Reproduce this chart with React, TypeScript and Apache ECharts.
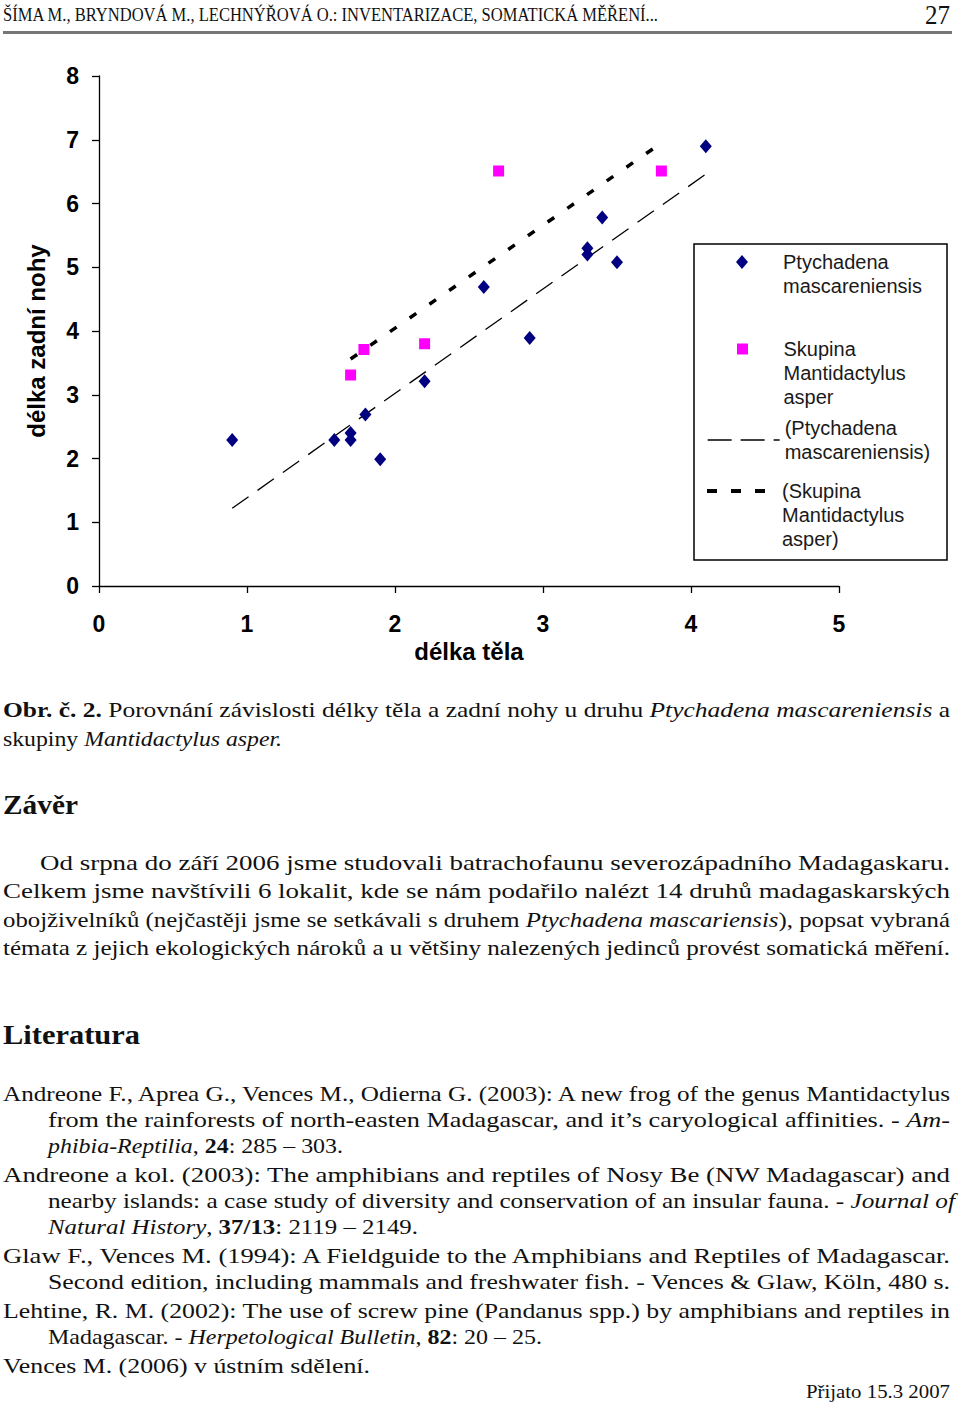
import React, { useEffect, useLayoutEffect, useRef } from "react";
import * as echarts from "echarts";

// ---------- data ----------
const seriesNames = [
  "Ptychadena mascareniensis",
  "Skupina Mantidactylus asper",
  "(Ptychadena mascareniensis)",
  "(Skupina Mantidactylus asper)",
];
// leading blank lines keep the first text line level with the legend icon
const legendLabels = [
  "\nPtychadena\nmascareniensis",
  "\n\nSkupina\nMantidactylus\nasper",
  "(Ptychadena\nmascareniensis)",
  "\n\n(Skupina\nMantidactylus\nasper)",
];
const ptychadenaX = [0.9, 1.59, 1.7, 1.7, 1.8, 1.9, 2.2, 2.6, 2.91, 3.3, 3.3, 3.4, 3.5, 4.1];
const ptychadenaY = [2.29, 2.29, 2.4, 2.29, 2.69, 1.99, 3.21, 4.69, 3.89, 5.3, 5.2, 5.78, 5.08, 6.9];
const mantidactylusX = [1.7, 1.79, 2.2, 2.7, 3.8];
const mantidactylusY = [3.31, 3.71, 3.8, 6.51, 6.51];
const ptychadenaTrendX = [0.9, 4.1];
const ptychadenaTrendY = [1.22, 6.46];
const mantidactylusTrendX = [1.7, 3.8];
const mantidactylusTrendY = [3.56, 6.95];
const xAxisTitle = "délka těla";
const yAxisTitle = "délka zadní nohy";

const pairs = (xs: number[], ys: number[]) => xs.map((x, i) => [x, ys[i]]);

const SANS = '"Liberation Sans", Arial, sans-serif';
const SERIF = '"Liberation Serif", "Times New Roman", serif';

// ---------- text line fitted to its width in the reference ----------
type LineProps = {
  x: number;
  cy: number;
  w: number;
  size?: number;
  justify?: boolean;
  bold?: boolean;
  color?: string;
  children: React.ReactNode;
};

function Line({ x, cy, w, size = 21, justify = false, bold = false, color = "#111", children }: LineProps) {
  const ref = useRef<HTMLDivElement>(null);
  useLayoutEffect(() => {
    const fit = () => {
      const el = ref.current;
      if (!el) return;
      el.style.transform = "none";
      el.style.wordSpacing = "normal";
      const nat = el.getBoundingClientRect().width;
      if (!nat) return;
      const glyph = 1.3;
      const spaces = (el.textContent || "").split(" ").length - 1;
      if (justify && spaces > 0 && nat * glyph < w) {
        const extra = (w / glyph - nat) / spaces;
        el.style.wordSpacing = extra + "px";
        const nat2 = el.getBoundingClientRect().width;
        el.style.transform = `scaleX(${w / nat2})`;
      } else {
        el.style.transform = `scaleX(${w / nat})`;
      }
    };
    fit();
    const fonts = (document as any).fonts;
    if (fonts && fonts.ready) fonts.ready.then(fit);
  }, []);
  return (
    <div
      ref={ref}
      style={{
        position: "absolute",
        left: x,
        top: cy - 0.5065 * size,
        fontSize: size,
        lineHeight: 1,
        whiteSpace: "nowrap",
        fontWeight: bold ? 700 : 400,
        transformOrigin: "0 0",
        fontFamily: SERIF,
        color,
      }}
    >
      {children}
    </div>
  );
}

// ---------- chart ----------
function Chart() {
  const ref = useRef<HTMLDivElement>(null);
  useEffect(() => {
    if (!ref.current) return;
    const chart = echarts.init(ref.current, undefined, { renderer: "svg" });
    const legendText = {
      fontFamily: SANS,
      fontSize: 20,
      color: "#1a1a1a",
      lineHeight: 24,
    };
    const legendBase = {
      orient: "vertical",
      padding: 0,
      itemGap: 0,
      selectedMode: false,
      textStyle: legendText,
    };
    const option: any = {
      animation: false,
      textStyle: { fontFamily: SANS },
      grid: { left: 99, top: 31, width: 740, height: 510, containLabel: false },
      xAxis: {
        type: "value",
        min: 0,
        max: 5,
        interval: 1,
        name: xAxisTitle,
        nameLocation: "middle",
        nameGap: 53,
        nameTextStyle: { fontSize: 24, fontWeight: "bold", color: "#000", fontFamily: SANS },
        axisLine: { show: true, onZero: false, lineStyle: { color: "#000", width: 1.3 } },
        axisTick: { show: true, length: 7, lineStyle: { color: "#000", width: 1.3 } },
        axisLabel: { fontSize: 23, color: "#000", margin: 26, fontFamily: SANS, fontWeight: "bold" },
        splitLine: { show: false },
      },
      yAxis: {
        type: "value",
        min: 0,
        max: 8,
        interval: 1,
        name: yAxisTitle,
        nameLocation: "middle",
        nameGap: 51,
        nameTextStyle: {
          fontSize: 24,
          fontWeight: "bold",
          color: "#000",
          fontFamily: SANS,
          padding: [0, 20, 0, 0],
        },
        axisLine: { show: true, onZero: false, lineStyle: { color: "#000", width: 1.3 } },
        axisTick: { show: true, length: 7, lineStyle: { color: "#000", width: 1.3 } },
        axisLabel: { fontSize: 23, color: "#000", margin: 20, fontFamily: SANS, fontWeight: "bold" },
        splitLine: { show: false },
      },
      legend: [
        {
          ...legendBase,
          data: [{ name: seriesNames[0], icon: "path://M6 0L12 7L6 14L0 7Z" }],
          left: 736,
          top: 181,
          itemWidth: 72,
          itemHeight: 14,
          formatter: () => legendLabels[0],
        },
        {
          ...legendBase,
          data: [{ name: seriesNames[1], icon: "path://M0 0H11V11H0Z" }],
          left: 737,
          top: 244,
          itemWidth: 72,
          itemHeight: 11,
          formatter: () => legendLabels[1],
        },
        {
          ...legendBase,
          data: [seriesNames[2]],
          left: 707,
          top: 371,
          itemWidth: 72,
          itemHeight: 14,
          formatter: () => legendLabels[2],
          lineStyle: { color: "#000", width: 1.3, type: [24, 9] },
          itemStyle: { opacity: 0, borderWidth: 0 },
        },
        {
          ...legendBase,
          data: [seriesNames[3]],
          left: 705,
          top: 386,
          itemWidth: 70,
          itemHeight: 14,
          formatter: () => legendLabels[3],
          lineStyle: { color: "#000", width: 4, type: [10, 14] },
          itemStyle: { opacity: 0, borderWidth: 0 },
        },
      ],
      graphic: [
        {
          type: "rect",
          silent: true,
          shape: { x: 694, y: 199, width: 253, height: 316 },
          style: { fill: "none", stroke: "#000", lineWidth: 1.5 },
        },
      ],
      series: [
        {
          name: seriesNames[2],
          type: "line",
          data: pairs(ptychadenaTrendX, ptychadenaTrendY),
          symbol: "none",
          showSymbol: false,
          silent: true,
          z: 1,
          itemStyle: { color: "#000" },
          lineStyle: { color: "#000", width: 1.3, type: [20, 11] },
        },
        {
          name: seriesNames[3],
          type: "line",
          data: pairs(mantidactylusTrendX, mantidactylusTrendY),
          symbol: "none",
          showSymbol: false,
          silent: true,
          z: 1,
          itemStyle: { color: "#000" },
          lineStyle: { color: "#000", width: 3.5, type: [8, 16] },
        },
        {
          name: seriesNames[0],
          type: "scatter",
          data: pairs(ptychadenaX, ptychadenaY),
          symbol: "diamond",
          symbolSize: [12, 14],
          z: 3,
          itemStyle: { color: "#000080", opacity: 1 },
        },
        {
          name: seriesNames[1],
          type: "scatter",
          data: pairs(mantidactylusX, mantidactylusY),
          symbol: "rect",
          symbolSize: [11, 11],
          z: 3,
          itemStyle: { color: "#ff00ff", opacity: 1 },
        },
      ],
    };
    chart.setOption(option);
    return () => chart.dispose();
  }, []);
  return (
    <div
      ref={ref}
      style={{ position: "absolute", left: 0, top: 45, width: 960, height: 640 }}
    />
  );
}

export default function App() {
  return (
    <div
      style={{
        position: "absolute",
        left: 0,
        top: 0,
        width: 960,
        height: 1409,
        overflow: "hidden",
        background: "#fff",
      }}
    >
      {/* running head */}
      <Line x={3} cy={15} w={655} size={19}>
        ŠÍMA M., BRYNDOVÁ M., LECHNÝŘOVÁ O.: INVENTARIZACE, SOMATICKÁ MĚŘENÍ...
      </Line>
      <Line x={925} cy={15.5} w={25} size={27}>
        27
      </Line>
      <div
        style={{
          position: "absolute",
          left: 3,
          top: 31,
          width: 949,
          height: 3,
          background: "#777",
        }}
      />

      <Chart />

      {/* caption */}
      <Line x={3} cy={711} w={947} justify>
        <b>Obr. č. 2.</b> Porovnání závislosti délky těla a zadní nohy u druhu <i>Ptychadena mascareniensis</i> a
      </Line>
      <Line x={3} cy={740} w={279}>
        skupiny <i>Mantidactylus asper.</i>
      </Line>

      <Line x={3} cy={806} w={75} size={27} bold>
        Závěr
      </Line>

      <Line x={40} cy={864} w={910} justify>
        Od srpna do září 2006 jsme studovali batrachofaunu severozápadního Madagaskaru.
      </Line>
      <Line x={3} cy={892} w={947} justify>
        Celkem jsme navštívili 6 lokalit, kde se nám podařilo nalézt 14 druhů madagaskarských
      </Line>
      <Line x={3} cy={921} w={947} justify>
        obojživelníků (nejčastěji jsme se setkávali s druhem <i>Ptychadena mascariensis</i>), popsat vybraná
      </Line>
      <Line x={3} cy={949} w={947} justify>
        témata z jejich ekologických nároků a u většiny nalezených jedinců provést somatická měření.
      </Line>

      <Line x={3} cy={1036} w={137} size={27} bold>
        Literatura
      </Line>

      <Line x={3} cy={1095} w={947} justify>
        Andreone F., Aprea G., Vences M., Odierna G. (2003): A new frog of the genus Mantidactylus
      </Line>
      <Line x={48} cy={1121} w={902} justify>
        from the rainforests of north-easten Madagascar, and it’s caryological affinities. - <i>Am-</i>
      </Line>
      <Line x={48} cy={1147} w={295}>
        <i>phibia-Reptilia</i>, <b>24</b>: 285 – 303.
      </Line>

      <Line x={3} cy={1176} w={947} justify>
        Andreone a kol. (2003): The amphibians and reptiles of Nosy Be (NW Madagascar) and
      </Line>
      <Line x={48} cy={1202} w={907} justify>
        nearby islands: a case study of diversity and conservation of an insular fauna. - <i>Journal of</i>
      </Line>
      <Line x={48} cy={1228} w={370}>
        <i>Natural History</i>, <b>37/13</b>: 2119 – 2149.
      </Line>

      <Line x={3} cy={1257} w={947} justify>
        Glaw F., Vences M. (1994): A Fieldguide to the Amphibians and Reptiles of Madagascar.
      </Line>
      <Line x={48} cy={1283} w={902} justify>
        Second edition, including mammals and freshwater fish. - Vences &amp; Glaw, Köln, 480 s.
      </Line>

      <Line x={3} cy={1312} w={947} justify>
        Lehtine, R. M. (2002): The use of screw pine (Pandanus spp.) by amphibians and reptiles in
      </Line>
      <Line x={48} cy={1338} w={494}>
        Madagascar. - <i>Herpetological Bulletin</i>, <b>82</b>: 20 – 25.
      </Line>

      <Line x={3} cy={1367} w={367}>
        Vences M. (2006) v ústním sdělení.
      </Line>

      <Line x={806} cy={1392} w={144} size={18}>
        Přijato 15.3 2007
      </Line>
    </div>
  );
}
